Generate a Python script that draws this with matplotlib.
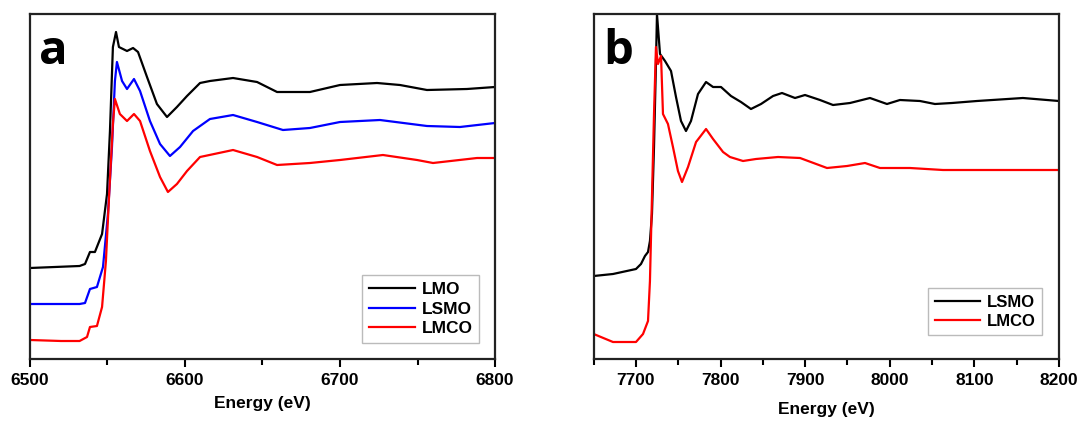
import matplotlib.pyplot as plt
from matplotlib.ticker import MultipleLocator

plt.rcParams['font.family'] = ['Liberation Sans', 'DejaVu Sans']
plt.rcParams['font.weight'] = 'bold'

# panel a: Mn K-edge (arbitrary units)
e_lmo = [6500, 6532, 6535.5, 6538.7, 6541.9, 6546.5, 6549.7, 6551.6, 6553.5, 6555.5, 6557.4,
         6562.6, 6566.5, 6569.7, 6575.5, 6581.9, 6588.4, 6594.8, 6601.3, 6609.7, 6616.1, 6631,
         6646.5, 6659.4, 6680.6, 6700, 6723.9, 6738.7, 6756.1, 6781.9, 6800]
mu_lmo = [0.91, 0.93, 0.95, 1.07, 1.07, 1.25, 1.65, 2.28, 3.12, 3.27, 3.12,
          3.08, 3.11, 3.07, 2.82, 2.55, 2.42, 2.52, 2.63, 2.76, 2.78, 2.81,
          2.77, 2.67, 2.67, 2.74, 2.76, 2.74, 2.69, 2.70, 2.72]

e_lsmo = [6500, 6532, 6535.5, 6538.7, 6543.2, 6547.1, 6550.3, 6552.9, 6554.8, 6556.1, 6559.4,
          6562.6, 6567.1, 6571, 6577.4, 6583.9, 6590.3, 6596.8, 6605.2, 6616.1, 6631,
          6646.5, 6663.2, 6680.6, 6700, 6725.8, 6756.1, 6777.4, 6800]
mu_lsmo = [0.55, 0.55, 0.56, 0.70, 0.72, 0.92, 1.45, 2.12, 2.78, 2.97, 2.78,
           2.70, 2.80, 2.68, 2.38, 2.15, 2.03, 2.12, 2.28, 2.40, 2.44,
           2.37, 2.29, 2.31, 2.37, 2.39, 2.33, 2.32, 2.36]

e_lmco = [6500, 6520, 6532, 6536.8, 6538.7, 6543.2, 6546.5, 6549, 6551, 6553.5, 6554.8, 6558,
          6562.6, 6567.1, 6571, 6577.4, 6583.9, 6589, 6594.8, 6601.3, 6609.7, 6631,
          6646.5, 6659.4, 6680.6, 6700, 6727.7, 6749.7, 6760, 6788.4, 6800]
mu_lmco = [0.19, 0.18, 0.18, 0.22, 0.32, 0.33, 0.52, 0.98, 1.62, 2.35, 2.60, 2.45,
           2.38, 2.45, 2.38, 2.08, 1.82, 1.67, 1.75, 1.88, 2.02, 2.09,
           2.02, 1.94, 1.96, 1.99, 2.04, 1.99, 1.96, 2.01, 2.01]

# panel b: Co K-edge
e_lsmo_b = [7650, 7672.8, 7700, 7705.9, 7710.6, 7714.2, 7716.5, 7718.9, 7721.3, 7723.6, 7724.8,
            7728.4, 7734.3, 7741.4, 7747.3, 7753.2, 7759.1, 7765, 7773.3, 7782.8, 7791.1, 7800.5,
            7812.3, 7824.1, 7835.9, 7847.8, 7862, 7872.6, 7888, 7899.8, 7917.5, 7932.9, 7953,
            7976.6, 7996.7, 8012, 8035.7, 8053.4, 8073.5, 8103, 8157.4, 8200]
mu_lsmo_b = [0.83, 0.85, 0.90, 0.95, 1.03, 1.07, 1.18, 1.45, 2.12, 2.95, 3.45,
             3.05, 2.98, 2.88, 2.62, 2.38, 2.28, 2.38, 2.65, 2.77, 2.72, 2.72,
             2.63, 2.57, 2.50, 2.55, 2.63, 2.66, 2.61, 2.64, 2.59, 2.54, 2.56,
             2.61, 2.55, 2.59, 2.58, 2.55, 2.56, 2.58, 2.61, 2.58]

e_lmco_b = [7650, 7672.8, 7700, 7708.3, 7714.2, 7716.5, 7718.9, 7721.3, 7723.6, 7726, 7729.6,
            7731.9, 7737.8, 7743.7, 7749.6, 7754.4, 7761.5, 7771, 7782.8, 7791.1, 7802.9,
            7811.1, 7826.5, 7841.8, 7867.9, 7893.9, 7925.8, 7949.5, 7970.7, 7988.4, 8023.9,
            8062.9, 8121.9, 8200]
mu_lmco_b = [0.25, 0.17, 0.17, 0.25, 0.38, 0.78, 1.62, 2.45, 3.12, 2.95, 3.03,
             2.45, 2.35, 2.12, 1.88, 1.77, 1.92, 2.17, 2.30, 2.20, 2.07,
             2.02, 1.98, 2.00, 2.02, 2.01, 1.91, 1.93, 1.96, 1.91, 1.91,
             1.89, 1.89, 1.89]

fig = plt.figure(figsize=(10.82, 4.23), dpi=100)
ax1 = fig.add_axes([0.0277, 0.1513, 0.4298, 0.8156])
ax2 = fig.add_axes([0.5487, 0.1513, 0.4300, 0.8156])

ax1.plot(e_lmo, mu_lmo, color='black', lw=1.6, label='LMO')
ax1.plot(e_lsmo, mu_lsmo, color='#0000ff', lw=1.6, label='LSMO')
ax1.plot(e_lmco, mu_lmco, color='#ff0000', lw=1.6, label='LMCO')
ax1.set_xlim(6500, 6800)
ax1.set_xticks([6500, 6600, 6700, 6800])

ax2.plot(e_lsmo_b, mu_lsmo_b, color='black', lw=1.6, label='LSMO')
ax2.plot(e_lmco_b, mu_lmco_b, color='#ff0000', lw=1.6, label='LMCO')
ax2.set_xlim(7650, 8200)
ax2.set_xticks([7700, 7800, 7900, 8000, 8100, 8200])

for ax, letter, pad in [(ax1, 'a', 6), (ax2, 'b', 10)]:
    ax.set_ylim(0, 3.45)
    ax.set_yticks([])
    ax.xaxis.set_minor_locator(MultipleLocator(50))
    ax.tick_params(axis='x', which='major', direction='out', length=6, width=1.5, labelsize=12.5, pad=4)
    ax.tick_params(axis='x', which='minor', direction='out', length=4, width=1.5)
    for s in ax.spines.values():
        s.set_linewidth(1.6)
        s.set_color('#222222')
    ax.set_xlabel('Energy (eV)', fontsize=12.5, fontweight='bold', labelpad=pad)
    ax.text(0.02, 0.96, letter, transform=ax.transAxes, fontsize=34, fontweight='bold',
            ha='left', va='top', family=['Open Sans', 'DejaVu Sans'])

ax1.legend(loc='lower right', frameon=True, fancybox=False, edgecolor='#aaaaaa',
           handlelength=2.6, borderaxespad=0.9, labelspacing=0.25, handletextpad=0.4,
           prop={'weight': 'bold', 'size': 12.5})
ax2.legend(loc='lower right', frameon=True, fancybox=False, edgecolor='#aaaaaa',
           handlelength=2.7, borderaxespad=1.0, labelspacing=0.25, handletextpad=0.4,
           prop={'weight': 'bold', 'size': 12}, bbox_to_anchor=(1.0, 0.02))

fig.savefig('out.png', dpi=100)
